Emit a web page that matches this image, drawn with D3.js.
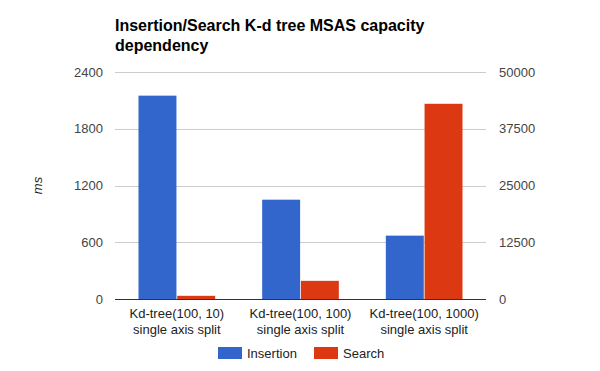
<!DOCTYPE html>
<html>
<head>
<meta charset="utf-8">
<script src="https://d3js.org/d3.v7.min.js"></script>
<style>
  body { margin: 0; background: #fff; }
  text { font-family: Arial, "Liberation Sans", sans-serif; }
</style>
</head>
<body>
<div id="chart"></div>
<script>
// data
var categories = ["Kd-tree(100, 10)|single axis split", "Kd-tree(100, 100)|single axis split", "Kd-tree(100, 1000)|single axis split"];
var insertion = [2150, 1050, 670];   // left axis (ms)
var search = [700, 4000, 43000];     // right axis
var leftTicks = [0, 600, 1200, 1800, 2400];
var rightTicks = [0, 12500, 25000, 37500, 50000];
var seriesNames = ["Insertion", "Search"];
var colors = ["#3366cc", "#dc3912"];

var W = 600, H = 371;
var mLeft = 115, mRight = 486, mTop = 72, mBottom = 299;

var svg = d3.select("#chart").append("svg")
    .attr("width", W).attr("height", H);

var x = d3.scaleBand().domain(categories).range([mLeft, mRight]).paddingInner(0.38).paddingOuter(0.19);
var xs = d3.scaleBand().domain(seriesNames).range([0, x.bandwidth()]).paddingInner(0.02);
var yL = d3.scaleLinear().domain([0, 2400]).range([mBottom, mTop]);
var yR = d3.scaleLinear().domain([0, 50000]).range([mBottom, mTop]);

// title
var title = svg.append("text").attr("font-size", 16).attr("font-weight", "bold").attr("fill", "#000");
title.append("tspan").attr("x", mLeft).attr("y", 31).text("Insertion/Search K-d tree MSAS capacity");
title.append("tspan").attr("x", mLeft).attr("y", 51).text("dependency");

// gridlines
svg.append("g")
  .attr("transform", "translate(" + mLeft + ",0)")
  .call(d3.axisLeft(yL).tickValues(leftTicks).tickSize(-(mRight - mLeft)).tickFormat(""))
  .call(function(g) {
    g.select(".domain").remove();
    g.selectAll("line").attr("stroke", "#cccccc").attr("shape-rendering", "crispEdges");
  });

// left axis labels
svg.append("g")
  .attr("transform", "translate(" + mLeft + ",0)")
  .call(d3.axisLeft(yL).tickValues(leftTicks).tickSize(0).tickPadding(12).tickFormat(d3.format("d")))
  .call(function(g) {
    g.select(".domain").remove();
    g.selectAll("text").attr("font-size", 13).attr("fill", "#444").style("font-family", "Arial, 'Liberation Sans', sans-serif");
  });

// right axis labels
svg.append("g")
  .attr("transform", "translate(" + mRight + ",0)")
  .call(d3.axisRight(yR).tickValues(rightTicks).tickSize(0).tickPadding(13).tickFormat(d3.format("d")))
  .call(function(g) {
    g.select(".domain").remove();
    g.selectAll("text").attr("font-size", 13).attr("fill", "#444").style("font-family", "Arial, 'Liberation Sans', sans-serif");
  });

// y axis title
svg.append("text")
  .attr("transform", "translate(42," + ((mTop + mBottom) / 2) + ") rotate(-90)")
  .attr("text-anchor", "middle")
  .attr("font-size", 13).attr("font-style", "italic").attr("fill", "#222")
  .text("ms");

// bars
var groups = svg.selectAll(".grp").data(categories).enter().append("g")
  .attr("transform", function(d) { return "translate(" + x(d) + ",0)"; });

groups.append("rect")
  .attr("x", xs("Insertion"))
  .attr("width", xs.bandwidth())
  .attr("y", function(d, i) { return yL(insertion[i]); })
  .attr("height", function(d, i) { return mBottom - yL(insertion[i]); })
  .attr("fill", colors[0]);

groups.append("rect")
  .attr("x", xs("Search"))
  .attr("width", xs.bandwidth())
  .attr("y", function(d, i) { return yR(search[i]); })
  .attr("height", function(d, i) { return mBottom - yR(search[i]); })
  .attr("fill", colors[1]);

// baseline
svg.append("line")
  .attr("x1", mLeft).attr("x2", mRight)
  .attr("y1", mBottom + 0.5).attr("y2", mBottom + 0.5)
  .attr("stroke", "#333");

// category labels
groups.each(function(d) {
  var t = d3.select(this).append("text")
    .attr("text-anchor", "middle")
    .attr("font-size", 13).attr("fill", "#222");
  d.split("|").forEach(function(line, j) {
    t.append("tspan").attr("x", x.bandwidth() / 2).attr("y", 318 + j * 16).text(line);
  });
});

// legend
var legendX = [218, 314];
var legend = svg.selectAll(".leg").data(seriesNames).enter().append("g")
  .attr("transform", function(d, i) { return "translate(" + legendX[i] + ",347)"; });
legend.append("rect").attr("width", 24).attr("height", 12).attr("fill", function(d, i) { return colors[i]; });
legend.append("text").attr("x", 29).attr("y", 11).attr("font-size", 13).attr("fill", "#222").text(function(d) { return d; });
</script>
</body>
</html>
